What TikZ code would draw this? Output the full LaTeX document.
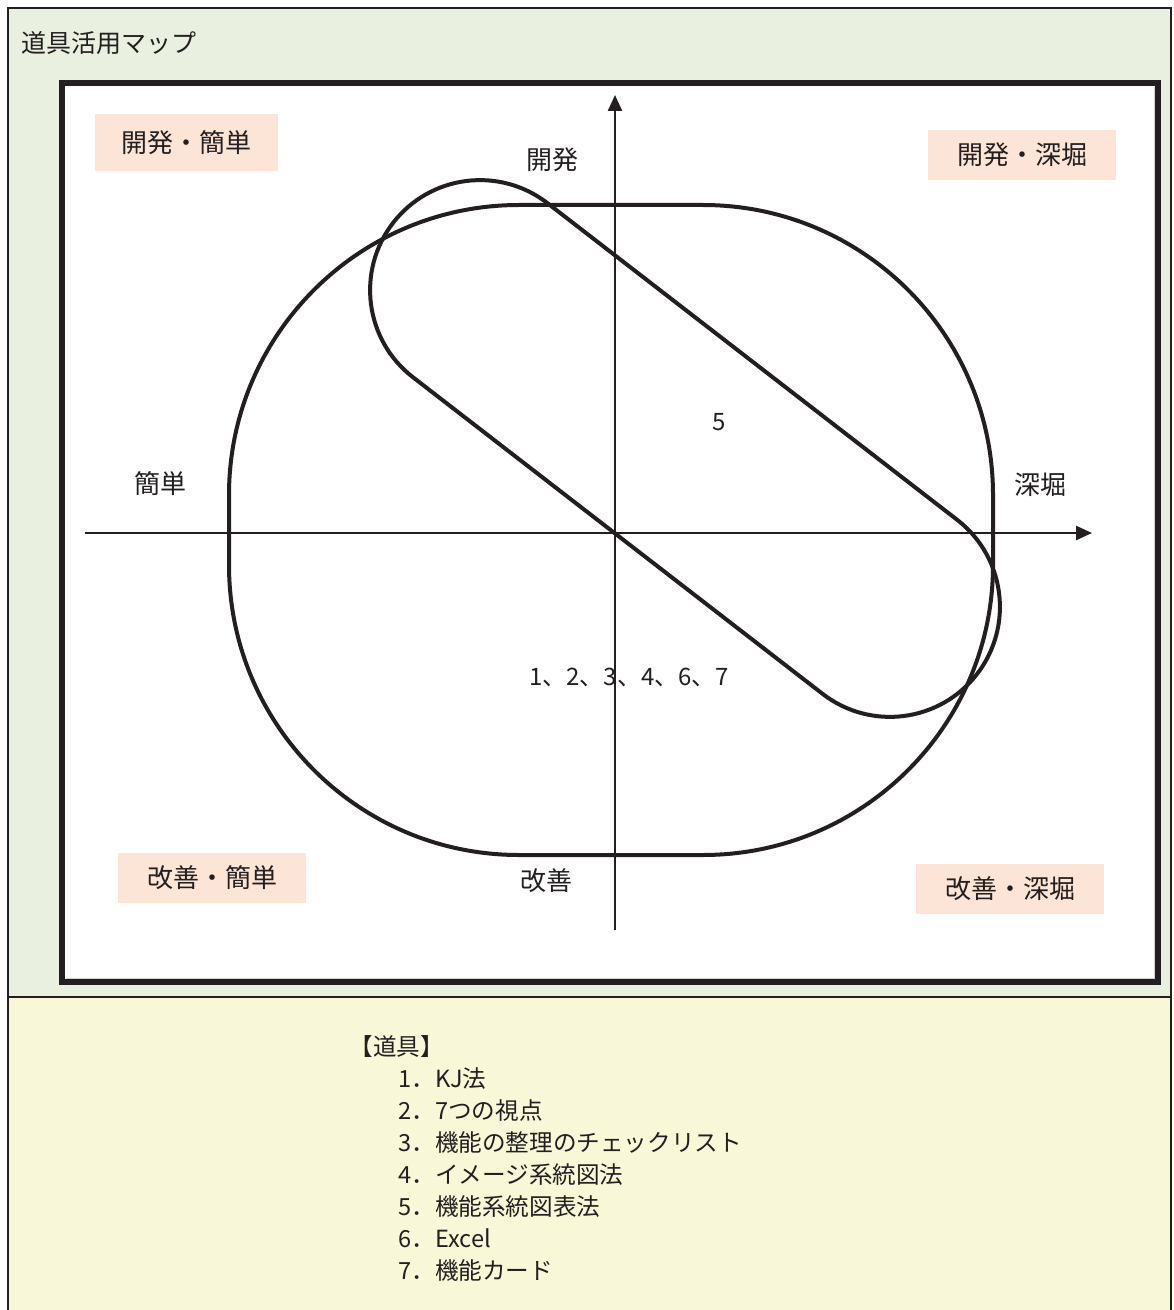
\documentclass[tikz,border=0pt]{standalone}
\usepackage{fontspec}
\setmainfont{Noto Sans CJK JP}
\usepackage{tikz}
\usetikzlibrary{arrows.meta,shapes.misc}
\definecolor{MapGreen}{HTML}{E9F0E0}
\definecolor{MapYellow}{HTML}{F8F8D8}
\definecolor{MapPeach}{HTML}{FCE4D6}
\definecolor{MapLine}{HTML}{231F20}

\begin{document}
\begin{tikzpicture}[x=0.5pt,y=-0.5pt,
  quadbox/.style={fill=MapPeach,text=MapLine,minimum width=94pt,minimum height=25pt,inner sep=0pt,font=\fontsize{13}{15}\selectfont},
  axislabel/.style={text=MapLine,inner sep=0pt,font=\fontsize{13}{15}\selectfont},
  numlabel/.style={text=MapLine,inner sep=0pt,font=\fontsize{12}{14}\selectfont},
  toolitem/.style={anchor=west,text=MapLine,inner sep=0pt,text height=8.5pt,text depth=2pt,font=\fontsize{11.8}{16}\selectfont},
  region/.style={draw=MapLine,line width=2pt},
  axisline/.style={draw=MapLine,line width=1.2pt,-{Triangle[length=8pt,width=7pt]}}]
\path[use as bounding box] (0,0) rectangle (1173,1310);
% panels
\fill[MapGreen] (8,8) rectangle (1171,997);
\fill[MapYellow] (8,997) rectangle (1171,1310);
\draw[MapLine,line width=1.2pt] (8,1315) -- (8,8) -- (1171,8) -- (1171,1315);
\draw[MapLine,line width=1pt] (8,997) -- (1171,997);
\node[anchor=west,text=MapLine,inner sep=0pt,font=\fontsize{12.5}{14}\selectfont] (title) at (21,43) {道具活用マップ};
% map frame
\fill[white] (62,83) rectangle (1158,982);
\draw[gray!35,line width=0.6pt] (66,978.5) -- (1154.5,978.5) -- (1154.5,87);
\draw[MapLine,line width=3pt] (62,83) rectangle (1158,982);
% axes
\coordinate (xstart) at (85,533);
\coordinate (xend) at (1092,533);
\coordinate (ystart) at (615,930);
\coordinate (yend) at (615,95);
\draw[axisline] (xstart) -- (xend);
\draw[axisline] (ystart) -- (yend);
% regions
\node[region,rounded corners=145pt,minimum width=382pt,minimum height=325pt] (kaizen) at (611,530) {};
\node[region,rounded rectangle,minimum width=369pt,minimum height=110pt,inner sep=0pt,rotate=-37.7] (kaihatsu) at (685,448.5) {};
% quadrant labels
\node[quadbox,minimum width=91.5pt,minimum height=28.5pt] (devsimple) at (186,143) {開発・簡単};
\node[quadbox] (devdeep) at (1022,155) {開発・深堀};
\node[quadbox] (impsimple) at (212,878) {改善・簡単};
\node[quadbox] (impdeep) at (1010,889) {改善・深堀};
% axis labels
\node[axislabel] (devlabel) at (552,160) {開発};
\node[axislabel] (implabel) at (546,881) {改善};
\node[axislabel] (simplelabel) at (160,484) {簡単};
\node[axislabel] (deeplabel) at (1040,485) {深堀};
\node[numlabel] (devtools) at (719,422) {5};
\node[numlabel] (imptools) at (629,677) {1、2、3、4、6、7};
% tool list
\node[toolitem] (toolhead) at (349,1049) {【道具】};
\foreach \tool [count=\i from 0] in {1．KJ法,2．7つの視点,3．機能の整理のチェックリスト,4．イメージ系統図法,5．機能系統図表法,6．Excel,7．機能カード}
  \node[toolitem] (tool\i) at (398,1081+32*\i) {\tool};
\end{tikzpicture}
\end{document}
